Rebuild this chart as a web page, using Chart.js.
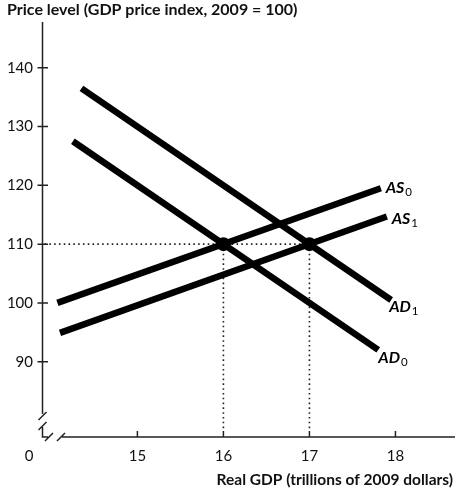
<!DOCTYPE html>
<html>
<head>
<meta charset="utf-8">
<script src="https://cdn.jsdelivr.net/npm/chart.js@4.4.1/dist/chart.umd.min.js"></script>
<style>
  body { margin: 0; background: #fff; }
</style>
</head>
<body>
<canvas id="chart" width="455" height="492"></canvas>
<script>
// ---------- data ----------
const xTicks = [15, 16, 17, 18];
const yTicks = [90, 100, 110, 120, 130, 140];

const ad0X = [14.25, 17.8];
const ad0Y = [127.5, 92];
const ad1X = [14.35, 17.95];
const ad1Y = [136.5, 100.5];
const as0X = [14.07, 17.83];
const as0Y = [100, 119.5];
const as1X = [14.1, 17.9];
const as1Y = [94.9, 114.7];

const eqX = [16, 17];
const eqY = [110, 110];

const curveLabels = [
  { name: "AS", sub: "0", x: 17.83, y: 119.5, dx: 5, dy: 5 },
  { name: "AS", sub: "1", x: 17.9, y: 114.7, dx: 5, dy: 7 },
  { name: "AD", sub: "1", x: 17.95, y: 100.5, dx: -2, dy: 12 },
  { name: "AD", sub: "0", x: 17.8, y: 92, dx: 0, dy: 13 }
];

const pts = (xs, ys) => xs.map((x, i) => ({ x: x, y: ys[i] }));

const FONT = "Lato, 'Open Sans', sans-serif";

function lineSet(xs, ys) {
  return {
    data: pts(xs, ys),
    showLine: true,
    borderColor: "#000",
    borderWidth: 6.5,
    borderCapStyle: "butt",
    pointRadius: 0,
    fill: false
  };
}

// ---------- axes, guides, labels ----------
const econPlugin = {
  id: "econ",
  beforeDatasetsDraw(chart) {
    const ctx = chart.ctx;
    const xs = chart.scales.x, ys = chart.scales.y;
    const x0 = 42.5, yAxis = 437;

    // dotted guides
    ctx.save();
    ctx.strokeStyle = "#222";
    ctx.lineWidth = 1.6;
    ctx.setLineDash([1.6, 3.2]);
    const py = ys.getPixelForValue(110);
    ctx.beginPath();
    ctx.moveTo(x0 + 2, py);
    ctx.lineTo(xs.getPixelForValue(17), py);
    eqX.forEach(v => {
      const px = xs.getPixelForValue(v);
      ctx.moveTo(px, py);
      ctx.lineTo(px, 431);
    });
    ctx.stroke();
    ctx.restore();

    // axes with breaks
    ctx.save();
    ctx.strokeStyle = "#222";
    ctx.lineWidth = 1.5;
    ctx.beginPath();
    ctx.moveTo(x0, 22);
    ctx.lineTo(x0, 414);
    ctx.moveTo(x0, 427);
    ctx.lineTo(x0, yAxis);
    ctx.lineTo(48, yAxis);
    ctx.moveTo(62, yAxis);
    ctx.lineTo(455, yAxis);
    // break slashes
    ctx.moveTo(38.5, 420); ctx.lineTo(46.5, 412);
    ctx.moveTo(38.5, 430); ctx.lineTo(46.5, 422);
    ctx.moveTo(45, 441); ctx.lineTo(53, 433);
    ctx.moveTo(57, 441); ctx.lineTo(65, 433);
    // ticks
    yTicks.forEach(v => {
      const p = ys.getPixelForValue(v);
      ctx.moveTo(37.5, p); ctx.lineTo(48, p);
    });
    xTicks.forEach(v => {
      const p = xs.getPixelForValue(v);
      ctx.moveTo(p, 431); ctx.lineTo(p, yAxis);
    });
    ctx.stroke();

    // tick labels
    ctx.fillStyle = "#111";
    ctx.font = "15px " + FONT;
    ctx.textBaseline = "middle";
    ctx.textAlign = "right";
    yTicks.forEach(v => ctx.fillText(String(v), 33, ys.getPixelForValue(v)));
    ctx.textAlign = "center";
    xTicks.forEach(v => ctx.fillText(String(v), xs.getPixelForValue(v), 456));
    ctx.fillText("0", 29, 456);

    // axis titles
    ctx.font = "bold 16px " + FONT;
    ctx.textAlign = "left";
    ctx.fillText("Price level (GDP price index, 2009 = 100)", 7, 10);
    ctx.font = "bold 15.5px " + FONT;
    ctx.textAlign = "right";
    ctx.fillText("Real GDP (trillions of 2009 dollars)", 453, 480);
    ctx.restore();
  },
  afterDatasetsDraw(chart) {
    const ctx = chart.ctx;
    const xs = chart.scales.x, ys = chart.scales.y;
    ctx.save();
    ctx.fillStyle = "#000";
    ctx.textBaseline = "alphabetic";
    ctx.textAlign = "left";
    curveLabels.forEach(l => {
      const px = xs.getPixelForValue(l.x) + l.dx;
      const py = ys.getPixelForValue(l.y) + l.dy;
      ctx.font = "italic bold 16px " + FONT;
      ctx.fillText(l.name, px, py);
      const w = ctx.measureText(l.name).width;
      ctx.font = "11.5px " + FONT;
      ctx.fillText(l.sub, px + w + 1, py + 3);
    });
    ctx.restore();
  }
};

new Chart(document.getElementById("chart"), {
  type: "scatter",
  data: {
    datasets: [
      lineSet(ad1X, ad1Y),
      lineSet(ad0X, ad0Y),
      lineSet(as0X, as0Y),
      lineSet(as1X, as1Y),
      {
        data: pts(eqX, eqY),
        showLine: false,
        pointRadius: 7,
        pointBackgroundColor: "#000",
        pointBorderWidth: 0
      }
    ]
  },
  options: {
    responsive: false,
    animation: false,
    layout: { padding: { left: 42, top: 22, right: 0, bottom: 55 } },
    plugins: { legend: { display: false }, tooltip: { enabled: false } },
    scales: {
      x: { type: "linear", display: false, min: 13.891, max: 18.611 },
      y: { type: "linear", display: false, min: 77.18, max: 147.8 }
    }
  },
  plugins: [econPlugin]
});
</script>
</body>
</html>
